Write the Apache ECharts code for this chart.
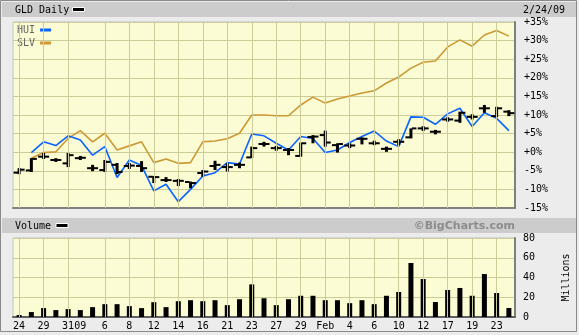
<!DOCTYPE html>
<html><head><meta charset="utf-8">
<script src="https://cdn.jsdelivr.net/npm/echarts@6/dist/echarts.min.js"></script>
<style>html,body{margin:0;padding:0;background:#ececec}#c{width:579px;height:335px}</style>
</head><body><div id="c"></div>
<script>
const dates = ['2008-12-24','2008-12-26','2008-12-29','2008-12-30','2008-12-31','2009-01-02','2009-01-05','2009-01-06','2009-01-07','2009-01-08','2009-01-09','2009-01-12','2009-01-13','2009-01-14','2009-01-15','2009-01-16','2009-01-20','2009-01-21','2009-01-22','2009-01-23','2009-01-26','2009-01-27','2009-01-28','2009-01-29','2009-01-30','2009-02-02','2009-02-03','2009-02-04','2009-02-05','2009-02-06','2009-02-09','2009-02-10','2009-02-11','2009-02-12','2009-02-13','2009-02-17','2009-02-18','2009-02-19','2009-02-20','2009-02-23','2009-02-24'];
const xLabels = ['24','','29','','31','09','','6','','8','','12','','14','','16','','21','','23','','27','','29','','Feb','','4','','6','','10','','12','','17','','19','','23',''];
const gridDays = [0,2,4,7,9,11,13,15,17,19,21,23,25,27,29,31,33,35,37,39];
const pctTicks = [-15,-10,-5,0,5,10,15,20,25,30,35];
const volTicks = [0,20,40,60,80];
const huiPct = [null,-0.1,2.8,1.8,4.4,3.3,-0.8,1.5,-6.8,-2.1,-3.6,-10.4,-8.6,-13.3,-10.0,-6.4,-5.5,-2.8,-3.2,4.9,4.4,2.4,0.6,4.2,3.7,-0.1,0.6,2.6,4.2,5.7,3.0,1.5,9.5,9.4,7.5,10.3,11.8,6.9,10.6,9.1,5.8];
const slvPct = [null,-1.6,-0.1,0.1,3.7,5.8,2.8,5.1,0.6,1.7,2.8,-2.8,-1.8,-3.0,-2.8,2.8,3.0,3.6,5.1,10.0,10.0,9.8,9.8,12.7,14.8,13.2,14.3,15.1,15.9,16.5,18.6,20.2,22.6,24.2,24.5,28.3,30.2,28.5,31.5,32.7,31.2];
const gldOpen  = [-5.5,-4.9,-1.2,-2.1,-3.0,-1.6,-4.3,-4.8,-3.4,-3.7,-3.7,-6.6,-7.5,-7.7,-8.0,-5.6,-3.7,-4.0,-3.4,-1.4,2.2,1.1,0.6,-1.0,4.1,4.6,1.9,1.8,3.6,2.4,0.9,2.8,4.0,6.4,5.5,8.8,8.5,9.5,11.8,9.7,10.9];
const gldClose = [-4.7,-1.8,-1.2,-2.1,-0.8,-1.5,-4.3,-2.6,-5.3,-3.6,-4.3,-6.7,-7.5,-7.7,-8.3,-5.2,-3.4,-4.0,-3.4,1.1,2.2,1.1,0.6,2.4,4.2,2.6,2.2,1.8,3.6,2.4,0.9,2.8,6.4,6.4,5.5,8.8,10.6,9.5,11.8,11.8,10.5];
const gldLow   = [-5.9,-5.3,-1.8,-2.6,-4.0,-2.1,-5.1,-5.3,-5.9,-4.5,-5.3,-8.3,-8.0,-9.1,-9.7,-6.6,-4.8,-5.2,-4.3,-1.6,1.5,0.4,-0.8,-1.2,2.4,1.5,-0.1,1.1,2.1,1.9,0.1,1.9,3.7,5.7,4.8,8.2,7.9,8.8,10.6,9.4,9.7];
const gldHigh  = [-4.3,-1.6,-0.2,-1.6,-0.2,-1.0,-3.4,-2.1,-2.9,-2.9,-2.4,-6.4,-6.7,-7.2,-7.9,-4.8,-2.3,-3.0,-2.8,1.5,2.8,1.7,1.1,2.6,4.6,5.8,2.4,2.4,4.0,3.1,1.5,3.5,6.4,7.0,6.0,9.4,10.9,10.2,12.7,12.2,11.3];
const volume = [2,5,9,7,8,7,10,13,13,11,9,15,10,16,17,16,17,12,18,33,19,12,18,21.5,21.5,17,17,14,17,13,21.5,25.3,54.7,38.5,15.2,27.3,29.4,21.5,43.5,24.3,9.1];

const MONO = 'DejaVu Sans Mono';
const GRIDC = '#cccc99';
const PLOTBG = '#fbfbd4';

const chart = echarts.init(document.getElementById('c'), null, {renderer:'canvas'});
const gldData = dates.map((d,i)=>[i,gldOpen[i],gldClose[i],gldLow[i],gldHigh[i]]);
const vLines = gridDays.map(i=>({xAxis: dates[i]}));

function pctFmt(v){ return (v>=0?'+':'')+v+'%'; }

chart.setOption({
  animation:false,
  backgroundColor:'#ececec',
  grid:[
    {left:13,right:64,top:22,height:186,show:true,backgroundColor:PLOTBG,borderColor:'#c4c4c4',borderWidth:1},
    {left:13,right:64,top:238,height:79,show:true,backgroundColor:PLOTBG,borderColor:'#c4c4c4',borderWidth:1}
  ],
  legend:{data:['HUI','SLV'],orient:'vertical',left:17,top:25,align:'right',icon:'rect',itemWidth:11,itemHeight:3,itemGap:3,padding:0,
    textStyle:{fontFamily:MONO,fontSize:10,color:'#666',padding:[0,0,0,0]}},
  xAxis:[
    {gridIndex:0,type:'category',data:dates,boundaryGap:true,axisLine:{show:true,onZero:false,lineStyle:{color:'#808080',width:2}},axisTick:{show:false},axisLabel:{show:false},splitLine:{show:false}},
    {gridIndex:1,type:'category',data:dates,boundaryGap:true,axisLine:{show:true,onZero:false,lineStyle:{color:'#606060',width:2}},axisTick:{show:false},
      axisLabel:{interval:(idx)=>xLabels[idx]!=='',formatter:(v,idx)=>xLabels[idx],fontFamily:MONO,fontSize:10,color:'#000',margin:4},splitLine:{show:false}}
  ],
  yAxis:[
    {gridIndex:0,type:'value',position:'right',min:pctTicks[0],max:pctTicks[pctTicks.length-1],interval:5,
      axisLine:{show:true,lineStyle:{color:'#808080',width:2}},axisTick:{show:false},
      splitLine:{show:true,lineStyle:{color:GRIDC,width:1}},
      axisLabel:{formatter:pctFmt,fontFamily:MONO,fontSize:10,color:'#000',align:'left',margin:9}},
    {gridIndex:1,type:'value',position:'right',min:volTicks[0],max:volTicks[volTicks.length-1],interval:20,
      name:'Millions',nameLocation:'middle',nameRotate:90,nameGap:46,nameTextStyle:{fontFamily:MONO,fontSize:10,color:'#000'},
      axisLine:{show:true,lineStyle:{color:'#808080',width:2}},axisTick:{show:false},
      splitLine:{show:true,lineStyle:{color:GRIDC,width:1}},
      axisLabel:{fontFamily:MONO,fontSize:10,color:'#000',align:'left',margin:8}}
  ],
  series:[
    {name:'grid0',type:'line',xAxisIndex:0,yAxisIndex:0,data:[],z:1,silent:true,
      markLine:{silent:true,symbol:'none',label:{show:false},lineStyle:{color:GRIDC,width:1,type:'solid'},data:vLines,animation:false}},
    {name:'grid1',type:'line',xAxisIndex:1,yAxisIndex:1,data:[],z:1,silent:true,
      markLine:{silent:true,symbol:'none',label:{show:false},lineStyle:{color:GRIDC,width:1,type:'solid'},data:vLines,animation:false}},
    {name:'SLV',type:'line',xAxisIndex:0,yAxisIndex:0,data:slvPct,symbol:'none',z:3,
      itemStyle:{color:'#cc9933'},lineStyle:{color:'#cc9933',width:1.6}},
    {name:'HUI',type:'line',xAxisIndex:0,yAxisIndex:0,data:huiPct,symbol:'none',z:3,
      itemStyle:{color:'#0a64ff'},lineStyle:{color:'#0a64ff',width:1.6}},
    {name:'GLD',type:'custom',xAxisIndex:0,yAxisIndex:0,data:gldData,z:4,encode:{x:0,y:[1,2,3,4]},
      renderItem:function(params,api){
        const i=api.value(0);
        const x=api.coord([i,0])[0];
        const yo=api.coord([i,api.value(1)])[1];
        const yc=api.coord([i,api.value(2)])[1];
        const yl=api.coord([i,api.value(3)])[1];
        const yh=api.coord([i,api.value(4)])[1];
        return {type:'group',children:[
          {type:'rect',shape:{x:x-1.5,y:yh,width:3,height:Math.max(yl-yh,2)},style:{fill:'#000'}},
          {type:'rect',shape:{x:x-5.5,y:yo-1,width:4.5,height:2},style:{fill:'#000'}},
          {type:'rect',shape:{x:x+1,y:yc-1,width:4.5,height:2},style:{fill:'#000'}}
        ]};
      }},
    {name:'Volume',type:'bar',xAxisIndex:1,yAxisIndex:1,data:volume,barWidth:5,z:3,itemStyle:{color:'#000'}}
  ],
  graphic:[
    {type:'rect',z:-1,shape:{x:0.5,y:0.5,width:576,height:331},style:{fill:'#ececec',stroke:'#8a8a8a',lineWidth:1}},
    {type:'rect',shape:{x:2,y:2,width:574,height:15},style:{fill:'#cccccc'}},
    {type:'text',x:15,y:10,style:{text:'GLD Daily',font:'10px '+MONO,fill:'#000',textVerticalAlign:'middle'}},
    {type:'rect',shape:{x:72.5,y:7.5,width:12,height:4},style:{fill:'#000',stroke:'#fff',lineWidth:1}},
    {type:'text',x:523,y:10,style:{text:'2/24/09',font:'10px '+MONO,fill:'#000',textVerticalAlign:'middle'}},
    {type:'rect',shape:{x:2,y:218,width:574,height:15},style:{fill:'#cccccc'}},
    {type:'text',x:15,y:226,style:{text:'Volume',font:'10px '+MONO,fill:'#000',textVerticalAlign:'middle'}},
    {type:'rect',shape:{x:56,y:223.5,width:12,height:4},style:{fill:'#000',stroke:'#fff',lineWidth:1}},
    {type:'text',x:515,y:226,style:{text:'©BigCharts.com',font:'bold 11px "DejaVu Sans"',fill:'#8c8c8c',textAlign:'right',textVerticalAlign:'middle'}}
  ]
});
</script></body></html>
